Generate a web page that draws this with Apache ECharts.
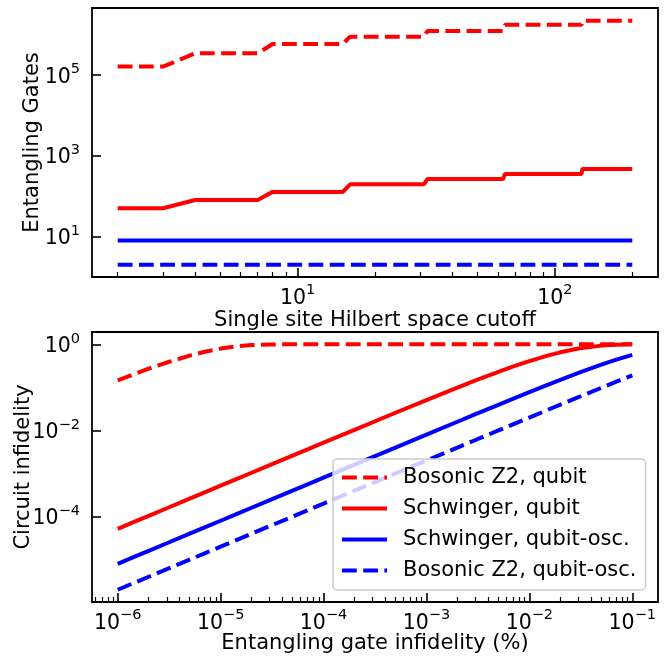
<!DOCTYPE html>
<html>
<head>
<meta charset="utf-8">
<script src="https://cdn.jsdelivr.net/npm/echarts@6/dist/echarts.min.js"></script>
<style>
html, body { margin: 0; padding: 0; background: #fff; }
#main { width: 667px; height: 656px; }
</style>
</head>
<body>
<div id="main"></div>
<script>
// top panel: gate counts vs. cutoff (corner points of the staircases)
var cutoff = [2, 3, 4, 7, 8, 15, 16, 31, 32, 63, 64, 127, 128, 200];
var gatesZ2Qubit = [1.6e5, 1.6e5, 3.4e5, 3.4e5, 5.8e5, 5.8e5, 8.8e5, 8.8e5, 1.22e6, 1.22e6, 1.72e6, 1.72e6, 2.19e6, 2.19e6];
var gatesSchwQubit = [50, 50, 80, 80, 127, 127, 195, 195, 266, 266, 353, 353, 470, 470];
var gatesSchwOsc = [8, 8, 8, 8, 8, 8, 8, 8, 8, 8, 8, 8, 8, 8];
var gatesZ2Osc = [2, 2, 2, 2, 2, 2, 2, 2, 2, 2, 2, 2, 2, 2];

// bottom panel: circuit infidelity vs. entangling gate infidelity
var gateInfid = [1e-6, 1.5e-6, 2e-6, 3e-6, 5e-6, 7e-6, 1e-5, 1.5e-5, 2e-5, 3e-5, 5e-5, 7e-5,
    1e-4, 2e-4, 5e-4, 1e-3, 2e-3, 3e-3, 5e-3, 7e-3, 1e-2, 1.5e-2, 2e-2, 3e-2, 5e-2, 7e-2, 1e-1];
var infZ2Qubit = [0.146, 0.211, 0.271, 0.377, 0.546, 0.669, 0.794, 0.907, 0.958, 0.991, 0.9996, 1,
    1, 1, 1, 1, 1, 1, 1, 1, 1, 1, 1, 1, 1, 1, 1];
var infSchwQubit = [5.2e-5, 7.8e-5, 1.04e-4, 1.56e-4, 2.6e-4, 3.64e-4, 5.2e-4, 7.8e-4, 1.04e-3, 1.56e-3, 2.6e-3, 3.63e-3,
    5.19e-3, 0.0103, 0.0257, 0.0507, 0.0989, 0.1447, 0.2295, 0.3061, 0.407, 0.544, 0.650, 0.795, 0.931, 0.977, 0.9958];
var infSchwOsc = [8e-6, 1.2e-5, 1.6e-5, 2.4e-5, 4e-5, 5.6e-5, 8e-5, 1.2e-4, 1.6e-4, 2.4e-4, 4e-4, 5.6e-4,
    8e-4, 1.6e-3, 4e-3, 7.97e-3, 0.0159, 0.0238, 0.0393, 0.0547, 0.0773, 0.1139, 0.1492, 0.216, 0.337, 0.440, 0.570];
var infZ2Osc = [2e-6, 3e-6, 4e-6, 6e-6, 1e-5, 1.4e-5, 2e-5, 3e-5, 4e-5, 6e-5, 1e-4, 1.4e-4,
    2e-4, 4e-4, 1e-3, 2e-3, 4e-3, 5.99e-3, 9.98e-3, 0.01395, 0.0199, 0.0298, 0.0396, 0.0591, 0.0975, 0.1351, 0.19];

// tick label exponents
var topXExp = [1, 2];
var topYExp = [1, 3, 5];
var botXExp = [-6, -5, -4, -3, -2, -1];
var botYExp = [0, -2, -4];

var seriesNames = ['Bosonic Z2, qubit', 'Schwinger, qubit', 'Schwinger, qubit-osc.', 'Bosonic Z2, qubit-osc.'];

// axis ranges (log10 units)
var topX = [0.201, 2.401], topY = [-0.002, 6.653];
var botX = [-6.25, -0.75], botY = [-5.984, 0.285];

var FONT = 'DejaVu Sans';
var myChart = echarts.init(document.getElementById('main'));

function pairs(xs, ys) {
    return xs.map(function (x, i) { return [x, ys[i]]; });
}
function minorTicks(lo, hi) {
    var out = [];
    for (var k = Math.floor(lo) - 1; k <= Math.ceil(hi); k++) {
        for (var m = 2; m <= 9; m++) {
            var v = k + Math.log10(m);
            if (v > lo && v < hi) out.push(v);
        }
    }
    return out;
}
function powLabel(v) {
    var e = Math.round(v);
    var s = e < 0 ? '\u2212' + (-e) : '' + e;
    return '{b|10}{s|' + s + '}';
}
var richPow = {
    b: { fontFamily: FONT, fontSize: 20.5, color: '#000', lineHeight: 26, verticalAlign: 'bottom' },
    s: { fontFamily: FONT, fontSize: 14.5, color: '#000', lineHeight: 14, verticalAlign: 'top' }
};

function logAxis(grid, rng) {
    return { type: 'log', gridIndex: grid, show: false,
        min: Math.pow(10, rng[0]), max: Math.pow(10, rng[1]) };
}
function labelAxis(grid, rng, exps, pos, name, gap) {
    return {
        type: 'value', gridIndex: grid, position: pos, min: rng[0], max: rng[1],
        name: name, nameLocation: 'middle', nameGap: gap, nameMoveOverlap: false,
        nameTextStyle: { fontFamily: FONT, fontSize: 21, color: '#000' },
        axisLine: { show: false }, splitLine: { show: false },
        axisTick: { show: true, inside: true, length: 9, customValues: exps,
            lineStyle: { color: '#000', width: 1.6 } },
        axisLabel: { show: true, customValues: exps, margin: pos === 'left' ? 12 : 6,
            formatter: powLabel, rich: richPow }
    };
}
function minorAxis(grid, rng, pos) {
    return {
        type: 'value', gridIndex: grid, position: pos, min: rng[0], max: rng[1],
        axisLine: { show: false }, splitLine: { show: false }, axisLabel: { show: false },
        axisTick: { show: true, inside: true, length: 5, customValues: minorTicks(rng[0], rng[1]),
            lineStyle: { color: '#000', width: 1.2 } }
    };
}

var option = {
    animation: false,
    backgroundColor: '#fff',
    grid: [
        { left: 92, top: 8, width: 566, height: 269, show: true, borderColor: '#000', borderWidth: 1.8, backgroundColor: 'transparent' },
        { left: 92, top: 332, width: 566, height: 270, show: true, borderColor: '#000', borderWidth: 1.8, backgroundColor: 'transparent' }
    ],
    legend: {
        data: seriesNames,
        orient: 'vertical',
        left: 333, top: 459,
        itemWidth: 45, itemHeight: 14, itemGap: 10,
        padding: [8, 9, 9, 7],
        backgroundColor: 'rgba(255,255,255,0.8)',
        borderColor: '#cccccc', borderWidth: 1.5, borderRadius: 4,
        itemStyle: { opacity: 0 },
        lineStyle: { width: 4 },
        textStyle: { fontFamily: FONT, fontSize: 21, color: '#000', lineHeight: 21, padding: [0, 0, 0, 11] }
    },
    xAxis: [
        logAxis(0, topX),
        labelAxis(0, topX, topXExp, 'bottom', 'Single site Hilbert space cutoff', 33),
        minorAxis(0, topX, 'bottom'),
        logAxis(1, botX),
        labelAxis(1, botX, botXExp, 'bottom', 'Entangling gate infidelity (%)', 31),
        minorAxis(1, botX, 'bottom')
    ],
    yAxis: [
        logAxis(0, topY),
        labelAxis(0, topY, topYExp, 'left', 'Entangling Gates', 49),
        logAxis(1, botY),
        labelAxis(1, botY, botYExp, 'left', 'Circuit infidelity', 58)
    ],
    series: [
        { type: 'line', xAxisIndex: 0, yAxisIndex: 0, data: pairs(cutoff, gatesZ2Qubit),
          lineStyle: { color: '#ff0000', width: 4, type: [14.8, 6.4] }, itemStyle: { color: '#ff0000' } },
        { type: 'line', xAxisIndex: 0, yAxisIndex: 0, data: pairs(cutoff, gatesSchwQubit),
          lineStyle: { color: '#ff0000', width: 4 }, itemStyle: { color: '#ff0000' } },
        { type: 'line', xAxisIndex: 0, yAxisIndex: 0, data: pairs(cutoff, gatesSchwOsc),
          lineStyle: { color: '#0000ff', width: 4 }, itemStyle: { color: '#0000ff' } },
        { type: 'line', xAxisIndex: 0, yAxisIndex: 0, data: pairs(cutoff, gatesZ2Osc),
          lineStyle: { color: '#0000ff', width: 4, type: [14.8, 6.4] }, itemStyle: { color: '#0000ff' } },

        { name: seriesNames[0], type: 'line', xAxisIndex: 3, yAxisIndex: 2, data: pairs(gateInfid, infZ2Qubit),
          lineStyle: { color: '#ff0000', width: 4, type: [14.8, 6.4] }, itemStyle: { color: '#ff0000' } },
        { name: seriesNames[1], type: 'line', xAxisIndex: 3, yAxisIndex: 2, data: pairs(gateInfid, infSchwQubit),
          lineStyle: { color: '#ff0000', width: 4 }, itemStyle: { color: '#ff0000' } },
        { name: seriesNames[2], type: 'line', xAxisIndex: 3, yAxisIndex: 2, data: pairs(gateInfid, infSchwOsc),
          lineStyle: { color: '#0000ff', width: 4 }, itemStyle: { color: '#0000ff' } },
        { name: seriesNames[3], type: 'line', xAxisIndex: 3, yAxisIndex: 2, data: pairs(gateInfid, infZ2Osc),
          lineStyle: { color: '#0000ff', width: 4, type: [14.8, 6.4] }, itemStyle: { color: '#0000ff' } }
    ].map(function (s) { s.symbol = 'none'; s.showSymbol = false; return s; })
};
myChart.setOption(option);
</script>
</body>
</html>
